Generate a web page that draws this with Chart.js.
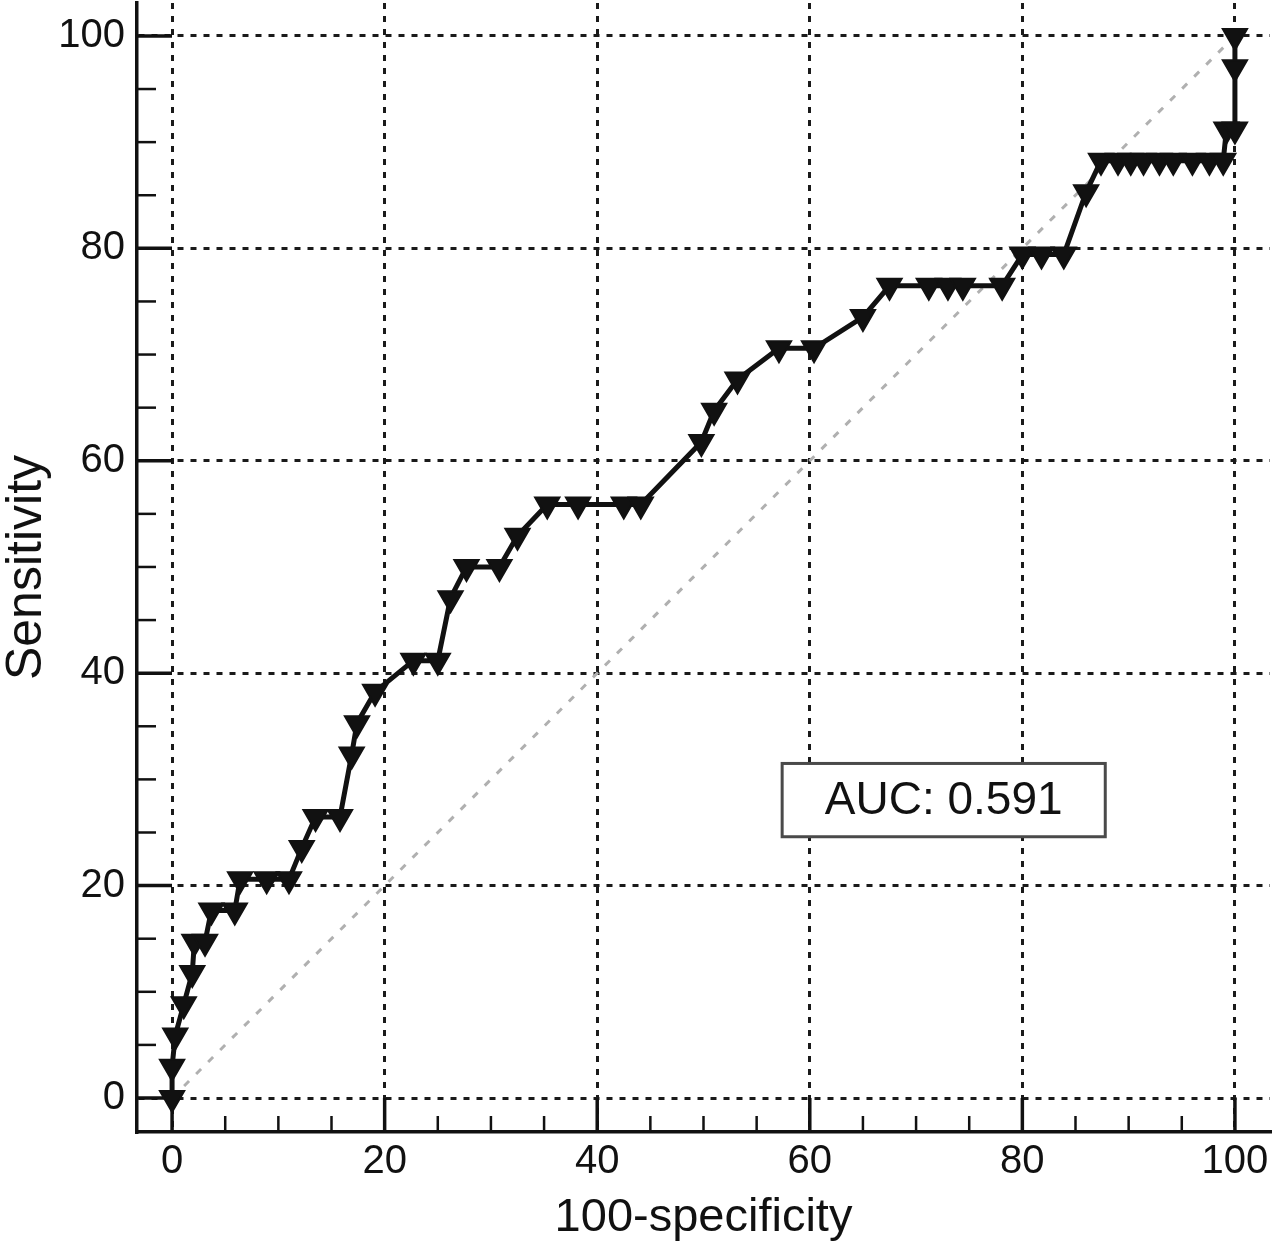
<!DOCTYPE html>
<html>
<head>
<meta charset="utf-8">
<title>ROC curve</title>
<script src="https://cdn.jsdelivr.net/npm/chart.js@4.4.1/dist/chart.umd.min.js"></script>
<style>
  body { margin: 0; background: #fff; }
  #chart { width: 1277px; height: 1255px; }
</style>
</head>
<body>
<div id="chart"><canvas id="myChart"></canvas></div>
<script>
// 100-specificity / sensitivity
const specValues = [0, 0, 0.3, 1.1, 1.9, 2.1, 3.1, 3.7, 5.9, 6.4, 8.9, 11.0, 12.2, 13.5, 15.8,
  16.9, 17.4, 19.1, 22.7, 25.0, 26.2, 27.7, 30.8, 32.5, 35.3, 38.2, 42.5, 44.1,
  49.8, 51.0, 53.2, 57.1, 60.4, 65.0, 67.5, 71.2, 73.0, 74.4, 78.1,
  80.0, 81.8, 83.9, 86.0, 87.4, 89.0, 90.2, 91.4, 92.9, 94.2, 96.0, 97.6, 98.9,
  99.2, 100, 100, 100];
const sensValues = [0, 2.94, 5.88, 8.82, 11.76, 14.71, 14.71, 17.65, 17.65, 20.59, 20.59, 20.59, 23.53, 26.47, 26.47,
  32.35, 35.29, 38.24, 41.18, 41.18, 47.06, 50, 50, 52.94, 55.88, 55.88, 55.88, 55.88,
  61.76, 64.71, 67.65, 70.59, 70.59, 73.53, 76.47, 76.47, 76.47, 76.47, 76.47,
  79.41, 79.41, 79.41, 85.29, 88.24, 88.24, 88.24, 88.24, 88.24, 88.24, 88.24, 88.24, 88.24,
  91.18, 91.18, 97.06, 100];
const diagX = [0, 100];
const diagY = [0, 100];
const xTicks = [0, 20, 40, 60, 80, 100];
const yTicks = [0, 20, 40, 60, 80, 100];
const smallTicks = [0, 5, 10, 15, 20, 25, 30, 35, 40, 45, 50, 55, 60, 65, 70, 75, 80, 85, 90, 95, 100];
const xTitle = '100-specificity';
const yTitle = 'Sensitivity';
const aucText = 'AUC: 0.591';

const fontFamily = '"Liberation Sans", Arial, Helvetica, sans-serif';

// tick marks point into the plot, and the AUC box
const innerTicks = {
  id: 'innerTicks',
  beforeDatasetsDraw(chart) {
    const { ctx, chartArea, scales: { x, y } } = chart;
    ctx.save();
    ctx.strokeStyle = '#111';
    smallTicks.forEach((v) => {
      const major = v % 20 === 0;
      ctx.lineWidth = major ? 3.5 : 2.5;
      const py = y.getPixelForValue(v);
      ctx.beginPath();
      ctx.moveTo(chartArea.left, py);
      ctx.lineTo(chartArea.left + (major ? 35 : 19), py);
      ctx.stroke();
      const px = x.getPixelForValue(v);
      ctx.beginPath();
      ctx.moveTo(px, chartArea.bottom);
      ctx.lineTo(px, chartArea.bottom - (major ? 34 : 16));
      ctx.stroke();
    });
    ctx.restore();
  },
  afterDatasetsDraw(chart) {
    const { ctx, scales: { x, y } } = chart;
    const left = x.getPixelForValue(57.4);
    const right = x.getPixelForValue(87.8);
    const top = y.getPixelForValue(31.5);
    const bottom = y.getPixelForValue(24.6);
    ctx.save();
    ctx.fillStyle = '#fff';
    ctx.fillRect(left, top, right - left, bottom - top);
    ctx.lineWidth = 3;
    ctx.strokeStyle = '#4a4a4a';
    ctx.strokeRect(left, top, right - left, bottom - top);
    ctx.fillStyle = '#111';
    ctx.font = '46px ' + fontFamily;
    ctx.textAlign = 'center';
    ctx.textBaseline = 'middle';
    ctx.fillText(aucText, (left + right) / 2, (top + bottom) / 2 + 1);
    ctx.restore();
  }
};

function makePoints(xs, ys) {
  return xs.map((v, i) => ({ x: v, y: ys[i] }));
}

const ctx = document.getElementById('myChart').getContext('2d');
const myChart = new Chart(ctx, {
  type: 'scatter',
  data: {
    datasets: [{
      label: 'Reference',
      data: makePoints(diagX, diagY),
      showLine: true,
      borderColor: '#b0b0b0',
      borderWidth: 3,
      borderDash: [7, 10],
      pointRadius: 0,
      order: 2
    }, {
      label: 'ROC',
      data: makePoints(specValues, sensValues),
      showLine: true,
      borderColor: '#111',
      borderWidth: 5,
      pointStyle: 'triangle',
      rotation: 180,
      pointRadius: 14,
      pointBackgroundColor: '#111',
      pointBorderColor: '#111',
      pointBorderWidth: 2,
      clip: false,
      order: 1
    }]
  },
  options: {
    responsive: true,
    maintainAspectRatio: false,
    animation: false,
    // big markers would otherwise push the plot area in
    layout: { autoPadding: false, padding: { top: 3, right: 7, left: 0, bottom: 0 } },
    plugins: {
      legend: { display: false },
      tooltip: { enabled: false }
    },
    scales: {
      x: {
        type: 'linear',
        min: -3.3,
        max: 103.3,
        afterBuildTicks: (axis) => { axis.ticks = xTicks.map((v) => ({ value: v })); },
        afterFit: (axis) => {
          axis.height = 123;
          axis.paddingLeft = 0;
          axis.paddingRight = 0;
        },
        grid: { color: '#1a1a1a', lineWidth: 3, drawTicks: false },
        border: { display: true, color: '#111', width: 3.5, dash: [6, 7] },
        ticks: { color: '#111', padding: 6, maxRotation: 0, font: { family: fontFamily, size: 40 } },
        title: {
          display: true,
          text: xTitle,
          color: '#111',
          font: { family: fontFamily, size: 47, lineHeight: 1 },
          padding: { top: 0, bottom: 13 }
        }
      },
      y: {
        type: 'linear',
        min: -3.2,
        max: 103.1,
        afterBuildTicks: (axis) => { axis.ticks = yTicks.map((v) => ({ value: v })); },
        afterFit: (axis) => {
          axis.width = 137;
          axis.paddingTop = 0;
          axis.paddingBottom = 0;
        },
        grid: { color: '#1a1a1a', lineWidth: 3, drawTicks: false },
        border: { display: true, color: '#111', width: 3.5, dash: [6, 7] },
        ticks: { color: '#111', padding: 12, font: { family: fontFamily, size: 40 } },
        title: {
          display: true,
          text: yTitle,
          color: '#111',
          font: { family: fontFamily, size: 50, lineHeight: 1 },
          padding: { top: 2, bottom: 0 }
        }
      }
    }
  },
  plugins: [innerTicks]
});
</script>
</body>
</html>
